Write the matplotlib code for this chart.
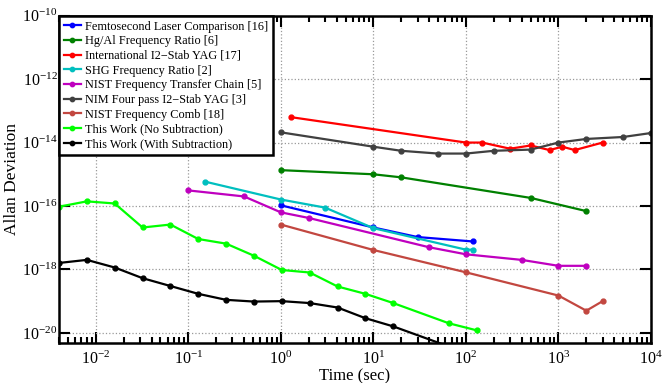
import matplotlib
matplotlib.use("Agg")
import matplotlib.pyplot as plt
from matplotlib.ticker import LogLocator, NullLocator, LogFormatterSciNotation, FixedLocator

plt.rcParams['font.family'] = ['Liberation Serif', 'DejaVu Serif']
plt.rcParams['mathtext.fontset'] = 'custom'
plt.rcParams['mathtext.rm'] = 'Liberation Serif'
plt.rcParams['mathtext.it'] = 'Liberation Serif:italic'

# ---- data ----
femto_t = [1, 10, 30, 120]
femto_y = [1.05e-16, 2.1e-17, 1.05e-17, 7.6e-18]

hgal_t = [1, 10, 20, 500, 2000]
hgal_y = [1.35e-15, 1.0e-15, 8.0e-16, 1.8e-16, 6.9e-17]

intl_t = [1.3, 100, 150, 300, 500, 800, 1100, 1500, 3000]
intl_y = [6.3e-14, 1e-14, 1e-14, 6.4e-15, 8.1e-15, 5.8e-15, 7.4e-15, 5.8e-15, 1e-14]

shg_t = [0.15, 1, 3, 10, 100, 120]
shg_y = [5.9e-16, 1.6e-16, 8.9e-17, 2.0e-17, 4.2e-18, 4.2e-18]

nist_chain_t = [0.1, 0.4, 1, 2, 40, 100, 400, 1000, 2000]
nist_chain_y = [3.1e-16, 2.0e-16, 6.3e-17, 4.2e-17, 5.0e-18, 3.0e-18, 2.0e-18, 1.3e-18, 1.3e-18]

nim_t = [1, 10, 20, 50, 100, 200, 500, 1000, 2000, 5000, 10000]
nim_y = [2.1e-14, 7.4e-15, 5.5e-15, 4.5e-15, 4.5e-15, 5.5e-15, 6.0e-15, 1.0e-14, 1.3e-14, 1.5e-14, 2.0e-14]

comb_t = [1, 10, 100, 1000, 2000, 3000]
comb_y = [2.6e-17, 4.1e-18, 8.1e-19, 1.5e-19, 5.0e-20, 1.0e-19]

nosub_t = [0.004, 0.008, 0.016, 0.032, 0.064, 0.128, 0.256, 0.512, 1.024, 2.048,
           4.096, 8.192, 16.384, 65.536, 131.072]
nosub_y = [9.5e-17, 1.4e-16, 1.2e-16, 2.1e-17, 2.6e-17, 9.1e-18, 6.5e-18, 2.7e-18,
           9.6e-19, 8.0e-19, 2.9e-19, 1.7e-19, 8.7e-20, 2.0e-20, 1.2e-20]

withsub_t = [0.004, 0.008, 0.016, 0.032, 0.064, 0.128, 0.256, 0.512, 1.024, 2.048,
             4.096, 8.192, 16.384, 65.536]
withsub_y = [1.6e-18, 2.0e-18, 1.15e-18, 5.3e-19, 3.0e-19, 1.7e-19, 1.1e-19, 9.7e-20,
             1.0e-19, 8.7e-20, 6.3e-20, 2.9e-20, 1.6e-20, 3.7e-21]

x_ticks = [1e-2, 1e-1, 1e0, 1e1, 1e2, 1e3, 1e4]
y_ticks = [1e-20, 1e-18, 1e-16, 1e-14, 1e-12, 1e-10]

series = [
    ("Femtosecond Laser Comparison [16]", femto_t, femto_y, (0, 0, 1)),
    ("Hg/Al Frequency Ratio [6]", hgal_t, hgal_y, (0, 0.5, 0)),
    ("International I2\u2212Stab YAG [17]", intl_t, intl_y, (1, 0, 0)),
    ("SHG Frequency Ratio [2]", shg_t, shg_y, (0, 0.75, 0.75)),
    ("NIST Frequency Transfer Chain [5]", nist_chain_t, nist_chain_y, (0.75, 0, 0.75)),
    ("NIM Four pass I2\u2212Stab YAG [3]", nim_t, nim_y, (0.25, 0.25, 0.25)),
    ("NIST Frequency Comb [18]", comb_t, comb_y, (0.76, 0.28, 0.25)),
    ("This Work (No Subtraction)", nosub_t, nosub_y, (0, 1, 0)),
    ("This Work (With Subtraction)", withsub_t, withsub_y, (0, 0, 0)),
]

fig = plt.figure(figsize=(6.64, 3.83), dpi=100)
ax = fig.add_axes([59/664, 1 - 342.7/383, (651-59)/664, (342.7-15.7)/383])

for label, t, y, c in series:
    ax.plot(t, y, '.-', color=c, lw=1.6, ms=7, label=label)

ax.set_xscale('log')
ax.set_yscale('log')
ax.set_xlim(0.004, 1e4)
ax.set_ylim(10**-20.31, 1e-10)

ax.xaxis.set_major_locator(FixedLocator(x_ticks))
ax.xaxis.set_minor_locator(LogLocator(base=10, subs=range(2, 10), numticks=100))
ax.xaxis.set_major_formatter(LogFormatterSciNotation(base=10))
ax.yaxis.set_major_locator(FixedLocator(y_ticks))
ax.yaxis.set_minor_locator(NullLocator())
ax.yaxis.set_major_formatter(LogFormatterSciNotation(base=10))

ax.grid(True, which='major', linestyle=':', color=(0.6, 0.6, 0.6), lw=0.9)

ax.tick_params(which='both', direction='in', top=True, right=True, width=1.5,
               labelsize=11.5, colors='black')
ax.tick_params(which='major', length=8, pad=6)
ax.tick_params(which='minor', length=4)
ax.tick_params(axis='y', pad=1)
for s in ax.spines.values():
    s.set_linewidth(1.8)

ax.set_xlabel("Time (sec)", fontsize=12)
ax.set_ylabel("Allan Deviation", fontsize=12.5)
ax.xaxis.set_label_coords(0.5, -0.078)
ax.yaxis.set_label_coords(-0.066, 0.5)

leg = ax.legend(loc='upper left', fontsize=8.8, borderaxespad=0.0, fancybox=False,
                framealpha=1, edgecolor='black', handlelength=1.4, handletextpad=0.3,
                labelspacing=0.22, borderpad=0.4, markerscale=0.9)
leg.get_frame().set_linewidth(1.8)

fig.savefig("out.png", dpi=100)
